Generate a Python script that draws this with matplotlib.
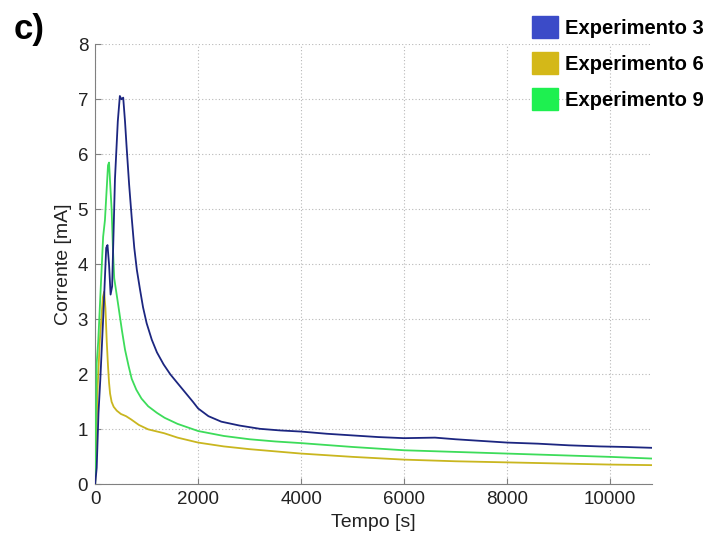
import matplotlib
matplotlib.use("Agg")
import matplotlib.pyplot as plt
from matplotlib.patches import Patch

plt.rcParams['font.family'] = ['Liberation Sans', 'DejaVu Sans']

# ---- data ----
labels = ["Experimento 3", "Experimento 6", "Experimento 9"]

t_exp3 = [0, 30, 65, 100, 160, 215, 240, 270, 300, 330, 385, 440, 480, 510, 545,
          580, 610, 660, 710, 760, 810, 870, 930, 1000, 1100, 1200, 1330, 1460,
          1600, 1750, 1900, 2000, 2200, 2450, 2800, 3200, 3600, 4000, 4500, 5000,
          5500, 6000, 6600, 7000, 7500, 8000, 8600, 9200, 9800, 10300, 10800]
i_exp3 = [0, 0.3, 1.3, 1.9, 3.1, 4.3, 4.35, 4.0, 3.45, 3.6, 5.55, 6.6, 7.06, 7.0, 7.03,
          6.6, 6.15, 5.45, 4.85, 4.3, 3.9, 3.55, 3.22, 2.93, 2.63, 2.4, 2.18, 2.0,
          1.84, 1.67, 1.5, 1.38, 1.24, 1.14, 1.07, 1.01, 0.98, 0.96, 0.92, 0.89,
          0.86, 0.84, 0.85, 0.82, 0.79, 0.76, 0.74, 0.71, 0.69, 0.68, 0.665]

t_exp6 = [0, 20, 50, 90, 120, 150, 175, 200, 225, 250, 270, 290, 320, 360, 420, 500,
          600, 700, 850, 1030, 1340, 1600, 2000, 2500, 3000, 3500, 4000, 5000, 6000,
          7000, 8000, 9000, 10000, 10800]
i_exp6 = [0, 0.8, 1.8, 2.6, 3.0, 3.4, 3.5, 3.2, 2.6, 2.15, 1.85, 1.65, 1.5, 1.41, 1.34,
          1.28, 1.24, 1.18, 1.08, 1.0, 0.93, 0.85, 0.76, 0.69, 0.64, 0.6, 0.56, 0.5,
          0.45, 0.42, 0.40, 0.38, 0.36, 0.35]

t_exp9 = [0, 15, 30, 60, 100, 155, 190, 220, 250, 270, 290, 320, 345, 370, 410, 450,
          520, 580, 650, 710, 800, 900, 1030, 1200, 1350, 1600, 2000, 2500, 3000,
          3500, 4000, 5000, 6000, 7000, 8000, 9000, 10000, 10800]
i_exp9 = [0, 1.2, 2.2, 2.6, 3.4, 4.5, 4.8, 5.3, 5.8, 5.85, 5.5, 5.0, 4.3, 3.75, 3.5,
          3.25, 2.8, 2.45, 2.15, 1.92, 1.72, 1.56, 1.42, 1.3, 1.21, 1.1, 0.97, 0.88,
          0.82, 0.78, 0.75, 0.68, 0.62, 0.59, 0.56, 0.53, 0.50, 0.47]

x_ticks = [0, 2000, 4000, 6000, 8000, 10000]
y_ticks = [0, 1, 2, 3, 4, 5, 6, 7, 8]

line_colors = ["#1c2680", "#c9b61f", "#3ddc5a"]
patch_colors = ["#3b4bc8", "#d4b818", "#1ef050"]

# ---- figure ----
fig = plt.figure(figsize=(7.1, 5.4), dpi=100)
ax = fig.add_axes([0.134, 0.103, 0.784, 0.815])

ax.plot(t_exp6, i_exp6, color=line_colors[1], lw=1.3, zorder=3)
ax.plot(t_exp9, i_exp9, color=line_colors[2], lw=1.3, zorder=4)
ax.plot(t_exp3, i_exp3, color=line_colors[0], lw=1.3, zorder=5)

ax.set_xlim(0, 10810)
ax.set_ylim(0, 8)
ax.set_xticks(x_ticks)
ax.set_yticks(y_ticks)
ax.grid(True, linestyle=(0, (1, 2)), color="#b8b8b8", lw=0.8)
for s in ["top", "right"]:
    ax.spines[s].set_visible(False)
for s in ["left", "bottom"]:
    ax.spines[s].set_color("#808080")
ax.tick_params(direction="in", length=4, color="#808080", labelsize=13.5,
               labelcolor="#222222", pad=5)
ax.set_xlabel("Tempo [s]", fontsize=14, color="#222222", labelpad=4)
ax.set_ylabel("Corrente [mA]", fontsize=14, color="#222222", labelpad=4)

fig.text(0.019, 0.946, "c)", fontsize=25, fontweight="bold", va="center", ha="left")

handles = [Patch(facecolor=c, edgecolor=c) for c in patch_colors]
leg = fig.legend(handles, labels, loc="upper left", bbox_to_anchor=(0.749, 0.97),
                 frameon=False, prop={"weight": "bold", "size": 14.5},
                 handlelength=1.3, handleheight=1.3, labelspacing=0.7,
                 handletextpad=0.35, borderaxespad=0, borderpad=0)

fig.savefig("out.png", dpi=100)
